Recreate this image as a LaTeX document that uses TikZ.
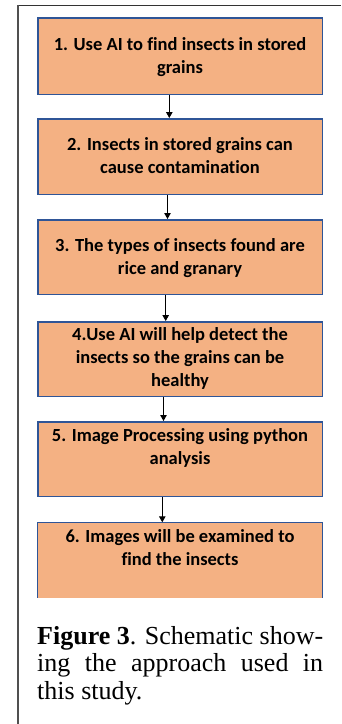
\documentclass[tikz,border=0pt]{standalone}
\usepackage{fontspec}
\setmainfont{Liberation Serif}
\newfontfamily\boxfont[Ligatures=NoCommon]{Carlito}
\usetikzlibrary{arrows.meta}
\definecolor{boxfill}{HTML}{F4B183}
\definecolor{boxline}{HTML}{2F5597}
\definecolor{frameA}{HTML}{333333}
\definecolor{frameB}{HTML}{505050}
\tikzset{
  stepbox/.style={rectangle, fill=boxfill, draw=boxline, line width=1.5pt, inner sep=0pt, minimum width=284.5pt},
  openbox/.style={rectangle, fill=boxfill, inner sep=0pt, minimum width=284.5pt},
  boxtext/.style={inner sep=0pt, anchor=base, font=\boxfont\bfseries\fontsize{18.5}{23}\selectfont},
  arr/.style={draw=black, line width=0.9pt, -{Triangle[length=6pt,width=6.5pt]}},
}
\begin{document}
\begin{tikzpicture}[x=1pt,y=-1pt]
\useasboundingbox (0,0) rectangle (341,724);
% frame
\draw[frameA, line width=1.5pt] (18,5.5) -- (341,5.5);
\draw[frameB, line width=2.2pt] (18,4.8) -- (18,724);
% boxes
\node[stepbox, minimum height=76.5pt] (b1) at (180,56) {};
\node[stepbox, minimum height=75.5pt] (b2) at (180,156.5) {};
\node[stepbox, minimum height=74.5pt] (b3) at (180,257) {};
\node[stepbox, minimum height=74.5pt] (b4) at (180,359) {};
\node[stepbox, minimum height=74.5pt] (b5) at (180,459) {};
\node[openbox, minimum height=75pt] (b6) at (180,560) {};
\draw[boxline, line width=1.5pt] (b6.south west) -- (b6.north west) -- (b6.north east) -- (b6.south east);
% texts
\node[boxtext] (t1) at (180,50) {\begin{tabular}[t]{@{}c@{}}1. Use AI to find insects in stored\\ grains\end{tabular}};
\node[boxtext] (t2) at (180,150.5) {\begin{tabular}[t]{@{}c@{}}2. Insects in stored grains can\\ cause contamination\end{tabular}};
\node[boxtext] (t3) at (180,251.5) {\begin{tabular}[t]{@{}c@{}}3. The types of insects found are\\ rice and granary\end{tabular}};
\node[boxtext] (t4) at (180,340.5) {\begin{tabular}[t]{@{}c@{}}4.Use AI will help detect the\\ insects so the grains can be\\ healthy\end{tabular}};
\node[boxtext] (t5) at (180,441.5) {\begin{tabular}[t]{@{}c@{}}5. Image Processing using python\\ analysis\end{tabular}};
\node[boxtext] (t6) at (180,542) {\begin{tabular}[t]{@{}c@{}}6. Images will be examined to\\ find the insects\end{tabular}};
% arrows
\draw[arr] (169.3,0 |- b1.south) -- (169.3,0 |- b2.north);
\draw[arr] (167.5,0 |- b2.south) -- (167.5,0 |- b3.north);
\draw[arr] (165.7,0 |- b3.south) -- (165.7,0 |- b4.north);
\draw[arr] (163.5,0 |- b4.south) -- (163.5,0 |- b5.north);
\draw[arr] (162.3,0 |- b5.south) -- (162.3,0 |- b6.north);
% caption
\node[inner sep=0pt, anchor=base west, font=\fontsize{26}{27.5}\selectfont] (cap) at (37,644) {\begin{tabular}[t]{@{}l@{}}\makebox[286pt][s]{\textbf{Figure 3}. Schematic show-}\\ \makebox[286pt][s]{ing the approach used in}\\ this study.\end{tabular}};
\end{tikzpicture}
\end{document}
